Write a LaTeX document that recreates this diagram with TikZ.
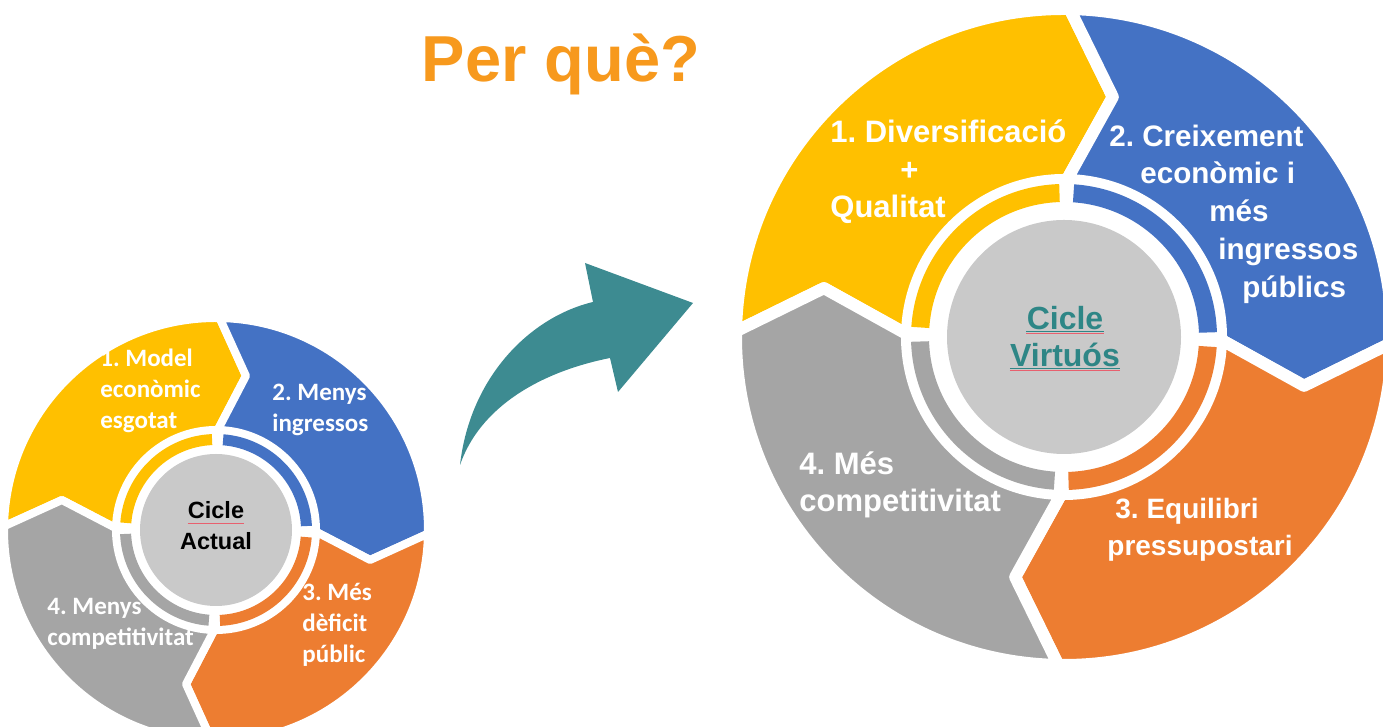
\documentclass[tikz,border=0pt]{standalone}
\usepackage{fontspec}
\setmainfont{Liberation Sans}
\newfontfamily\carlito{Carlito}
\frenchspacing
\definecolor{cyyellow}{RGB}{255,192,0}
\definecolor{cyblue}{RGB}{68,114,196}
\definecolor{cyorange}{RGB}{237,125,49}
\definecolor{cygray}{RGB}{165,165,165}
\definecolor{cycircle}{RGB}{201,201,201}
\definecolor{cyteal}{RGB}{61,139,145}
\definecolor{virtteal}{RGB}{46,134,134}
\definecolor{titleorange}{RGB}{247,153,29}
\definecolor{spellred}{RGB}{232,96,110}
\tikzset{seggap/.style = {draw = white, line join = round}}
\tikzset{smalltxt/.style = {text = white, font = \carlito\bfseries\fontsize{12.5}{15.5}\selectfont, align = left, anchor = west, inner sep = 0}}
\tikzset{bigtxt/.style = {text = white, font = \bfseries\fontsize{15.5}{18.75}\selectfont, align = left, anchor = west, inner sep = 0}}
\tikzset{ctrtxt/.style = {font = \bfseries\fontsize{11.75}{14}\selectfont, inner sep = 0}}
\tikzset{virttxt/.style = {text = virtteal, font = \bfseries\fontsize{16}{18.5}\selectfont, inner sep = 0}}
\usetikzlibrary{calc}

\begin{document}
\begin{tikzpicture}[x = 0.5pt, y = 0.5pt]
    \clip (0, 0) rectangle (1383, 727);
    \useasboundingbox (0, 0) rectangle (1383, 727);

    % cicle actual
    \begin{scope}[shift = {(216, 197)}]
      \foreach \a/\col in {179/cyyellow, 89/cyblue, -1/cyorange, -91/cygray} {
        \pgfmathsetmacro\b{\a - 90}
        \filldraw [fill = \col, seggap, line width = 4pt] (\a:212) arc [start angle = \a, end angle = \b, radius = 212]
          -- (\b - 10:157) -- (\b:100) arc [start angle = \b, end angle = \a, radius = 100] -- (\a - 10:157) -- cycle;
      }
      \foreach \a/\col in {179/cyyellow, 89/cyblue, -1/cyorange, -91/cygray} {
        \pgfmathsetmacro\ra{\a - 3.5}
        \pgfmathsetmacro\rb{\a - 86.5}
        \fill [\col] (\ra:96) arc [start angle = \ra, end angle = \rb, radius = 96]
          -- (\rb:85) arc [start angle = \rb, end angle = \ra, radius = 85] -- cycle;
      }
      \fill [cycircle] (0, 0) circle [radius = 76];
    \end{scope}
    \node [smalltxt] (sm1) at (100, 336) {1. Model\\econòmic\\esgotat};
    \node [smalltxt] (sm2) at (272, 317) {2. Menys\\ingressos};
    \node [smalltxt] (sm3) at (302, 102) {3. Més\\dèficit\\públic};
    \node [smalltxt] (sm4) at (47, 103) {4. Menys\\competitivitat};
    \node [ctrtxt] (act1) at (216, 217) {Cicle};
    \node [ctrtxt] (act2) at (216, 186) {Actual};
    \draw [spellred, line width = 0.6pt] ([yshift = -2.5]act1.base west) -- ([yshift = -2.5]act1.base east);

    % fletxa
    \fill [cyteal] (460, 262) .. controls (470, 350) and (530, 410) .. (593, 425) -- (585, 464) -- (693, 424)
      -- (618, 335) -- (610, 369) .. controls (540, 355) and (480, 320) .. (460, 262) -- cycle;
    \node [text = titleorange, font = \bfseries\fontsize{32.5}{36}\selectfont, anchor = base, inner sep = 0] (title) at (561, 645) {Per què?};

    % cicle virtuos
    \begin{scope}[shift = {(1064, 390)}]
      \foreach \a/\col in {179/cyyellow, 89/cyblue, -1/cyorange, -91/cygray} {
        \pgfmathsetmacro\b{\a - 90}
        \filldraw [fill = \col, seggap, line width = 6pt] (\a:328) arc [start angle = \a, end angle = \b, radius = 328]
          -- (\b - 10.5:245) -- (\b:157) arc [start angle = \b, end angle = \a, radius = 157] -- (\a - 10.5:245) -- cycle;
      }
      \foreach \a/\col in {179/cyyellow, 89/cyblue, -1/cyorange, -91/cygray} {
        \pgfmathsetmacro\ra{\a - 2.8}
        \pgfmathsetmacro\rb{\a - 87.2}
        \fill [\col] (\ra:153) arc [start angle = \ra, end angle = \rb, radius = 153]
          -- (\rb:135) arc [start angle = \rb, end angle = \ra, radius = 135] -- cycle;
      }
      \fill [cycircle] (0, 0) circle [radius = 117];
    \end{scope}
    \node [bigtxt] (bg1) at (830, 555) {1. Diversificació\\\hspace*{35pt}+\\Qualitat};
    \node [bigtxt, font = \bfseries\fontsize{14.8}{18.9}\selectfont] (bg2) at (1109, 513) {2. Creixement\\\hspace*{15.5pt}econòmic i\\\hspace*{50pt}més\\\hspace*{54.5pt}ingressos\\\hspace*{66.5pt}públics};
    \node [bigtxt, font = \bfseries\fontsize{14}{18.5}\selectfont] (bg3) at (1107, 197) {\hspace*{4pt}3. Equilibri\\pressupostari};
    \node [bigtxt] (bg4) at (799, 242) {4. Més\\competitivitat};
    \node [virttxt] (virt1) at (1065, 409) {Cicle};
    \node [virttxt] (virt2) at (1065, 372) {Virtuós};
    \foreach \n in {virt1, virt2} {
      \draw [virtteal, line width = 0.8pt] ([yshift = -1]\n.base west) -- ([yshift = -1]\n.base east);
      \draw [spellred, line width = 0.6pt] ([yshift = -2]\n.base west) -- ([yshift = -2]\n.base east);
    }
\end{tikzpicture}
\end{document}
